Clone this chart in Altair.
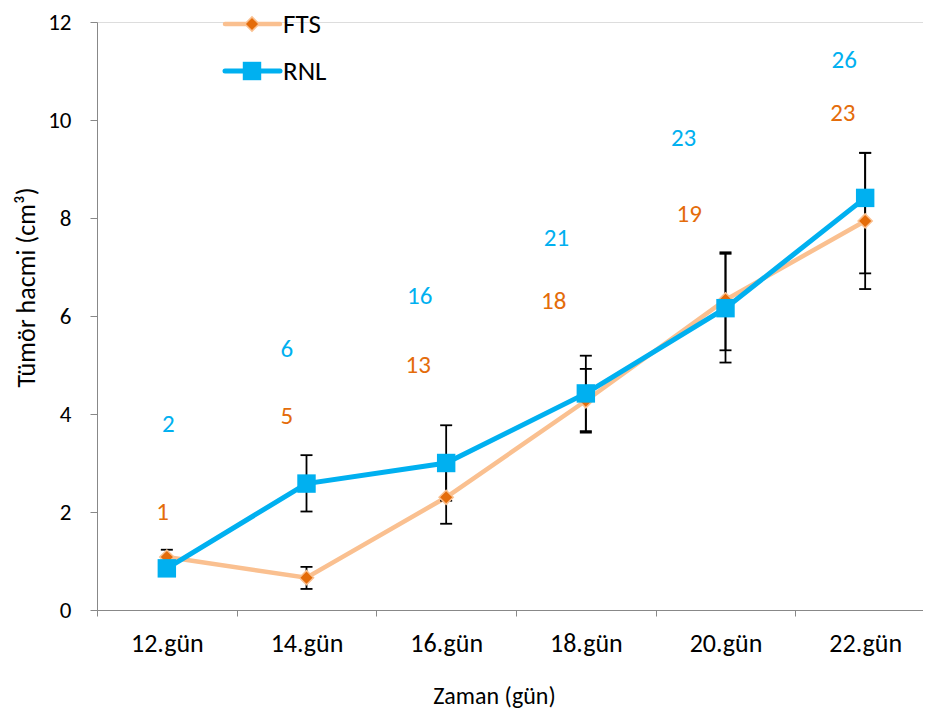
import json
import altair as alt
import pandas as pd

# ---------------- data ----------------
categories = ["12.gün", "14.gün", "16.gün", "18.gün", "20.gün", "22.gün"]
cat_index = [0, 1, 2, 3, 4, 5]

fts_mean = [1.08, 0.66, 2.30, 4.27, 6.33, 7.94]
fts_low = [0.93, 0.43, 1.76, 3.62, 5.30, 6.55]
fts_high = [1.23, 0.88, 2.84, 4.92, 7.30, 9.33]

rnl_mean = [0.85, 2.58, 3.00, 4.42, 6.16, 8.41]
rnl_low = [0.78, 2.01, 2.23, 3.65, 5.05, 6.87]
rnl_high = [0.92, 3.16, 3.77, 5.19, 7.27, 9.33]

# annotation counts (n) placed above each time point
fts_n = ["1", "5", "13", "18", "19", "23"]
fts_n_x = [-0.03, 0.86, 1.80, 2.77, 3.74, 4.84]
fts_n_y = [1.99, 3.96, 5.00, 6.31, 8.08, 10.15]

rnl_n = ["2", "6", "16", "21", "23", "26"]
rnl_n_x = [0.01, 0.86, 1.81, 2.79, 3.70, 4.85]
rnl_n_y = [3.80, 5.33, 6.40, 7.60, 9.63, 11.22]

y_ticks = [0, 2, 4, 6, 8, 10, 12]

# ---------------- style ----------------
FONT = "Carlito, Calibri, Lato, sans-serif"
ORANGE_LINE = "#FAC090"
ORANGE = "#E46C0A"
BLUE = "#00B0F0"
AXIS_GRAY = "#888888"

fts = pd.DataFrame({"i": cat_index, "mean": fts_mean, "low": fts_low, "high": fts_high})
rnl = pd.DataFrame({"i": cat_index, "mean": rnl_mean, "low": rnl_low, "high": rnl_high})
err = pd.concat([fts, rnl], ignore_index=True)
fts_lab = pd.DataFrame({"x": fts_n_x, "y": fts_n_y, "t": fts_n})
rnl_lab = pd.DataFrame({"x": rnl_n_x, "y": rnl_n_y, "t": rnl_n})
one = pd.DataFrame({"a": [0]})

x_tick_values = [v / 2 for v in range(-1, 12)]
label_expr = ("datum.value % 1 === 0 ? " + json.dumps(categories) +
              "[datum.value] : ''")

x_scale = alt.Scale(domain=[-0.5, 5.5], range=[0, 838], nice=False, zero=False)
y_scale = alt.Scale(domain=[0, 12], nice=False)

x_axis = alt.Axis(
    values=x_tick_values, labelExpr=label_expr, grid=False,
    tickSize=6, tickColor=AXIS_GRAY, domainColor=AXIS_GRAY,
    tickOpacity={"condition": {"test": "datum.value % 1 === 0", "value": 0}, "value": 1},
    labelFont=FONT, labelFontSize=26, labelColor="#000000", labelPadding=14,
    labelOverlap=False, labelFlush=False, labelBound=False,
    title="Zaman (gün)", titleFont=FONT, titleFontSize=24, titleFontWeight="normal",
    titleColor="#000000", titleX=397, titleY=74, titleAlign="center",
    titleBaseline="top", titleAnchor="start",
)
y_axis = alt.Axis(
    values=y_ticks, grid=False, tickSize=7, tickColor=AXIS_GRAY,
    domainColor=AXIS_GRAY, labelFont=FONT, labelFontSize=23,
    labelColor="#000000", labelPadding=19,
    title="Tümör hacmi (cm³)", titleFont=FONT, titleFontSize=26,
    titleFontWeight="normal", titleColor="#000000", titleX=-71, titleY=265,
    titleAlign="center", titleBaseline="middle", titleAnchor="start", titleAngle=270,
)

X = alt.X("i:Q", scale=x_scale, axis=x_axis)
Y = alt.Y("mean:Q", scale=y_scale, axis=y_axis)

err_rule = alt.Chart(err).mark_rule(color="#000000", strokeWidth=1.8).encode(
    x=alt.X("i:Q", scale=x_scale), y=alt.Y("low:Q", scale=y_scale), y2="high:Q")
cap_low = alt.Chart(err).mark_rule(color="#000000", strokeWidth=1.8, xOffset=-6, x2Offset=6).encode(
    x=alt.X("i:Q", scale=x_scale), x2="i:Q", y=alt.Y("low:Q", scale=y_scale))
cap_high = alt.Chart(err).mark_rule(color="#000000", strokeWidth=1.8, xOffset=-6, x2Offset=6).encode(
    x=alt.X("i:Q", scale=x_scale), x2="i:Q", y=alt.Y("high:Q", scale=y_scale))

fts_line = alt.Chart(fts).mark_line(color=ORANGE_LINE, strokeWidth=4.5).encode(x=X, y=Y)
fts_pts = alt.Chart(fts).mark_point(shape="diamond", size=200, filled=True, fill=ORANGE,
                                    stroke=ORANGE_LINE, strokeWidth=1.5, opacity=1).encode(
    x=alt.X("i:Q", scale=x_scale), y=alt.Y("mean:Q", scale=y_scale))
rnl_line = alt.Chart(rnl).mark_line(color=BLUE, strokeWidth=5).encode(
    x=alt.X("i:Q", scale=x_scale), y=alt.Y("mean:Q", scale=y_scale))
rnl_pts = alt.Chart(rnl).mark_point(shape="square", size=340, filled=True, fill=BLUE,
                                    opacity=1).encode(
    x=alt.X("i:Q", scale=x_scale), y=alt.Y("mean:Q", scale=y_scale))

fts_text = alt.Chart(fts_lab).mark_text(font=FONT, fontSize=25, color=ORANGE).encode(
    x=alt.X("x:Q", scale=x_scale), y=alt.Y("y:Q", scale=y_scale), text="t:N")
rnl_text = alt.Chart(rnl_lab).mark_text(font=FONT, fontSize=25, color=BLUE).encode(
    x=alt.X("x:Q", scale=x_scale), y=alt.Y("y:Q", scale=y_scale), text="t:N")

# legend (drawn in pixel space, relative to the plot area)
leg_fts_line = alt.Chart(one).mark_rule(color=ORANGE_LINE, strokeWidth=4.5, strokeCap="round").encode(
    x=alt.value(128), x2=alt.value(183), y=alt.value(2))
leg_fts_pt = alt.Chart(one).mark_point(shape="diamond", size=200, filled=True, fill=ORANGE,
                                       stroke=ORANGE_LINE, strokeWidth=1.5, opacity=1).encode(
    x=alt.value(155), y=alt.value(2))
leg_fts_txt = alt.Chart(one).mark_text(font=FONT, fontSize=27, align="left", baseline="middle",
                                       color="#000000").encode(
    x=alt.value(186), y=alt.value(3), text=alt.value("FTS"))
leg_rnl_line = alt.Chart(one).mark_rule(color=BLUE, strokeWidth=5, strokeCap="round").encode(
    x=alt.value(128), x2=alt.value(183), y=alt.value(49))
leg_rnl_pt = alt.Chart(one).mark_point(shape="square", size=340, filled=True, fill=BLUE,
                                       opacity=1).encode(
    x=alt.value(155), y=alt.value(49))
leg_rnl_txt = alt.Chart(one).mark_text(font=FONT, fontSize=27, align="left", baseline="middle",
                                       color="#000000").encode(
    x=alt.value(186), y=alt.value(50), text=alt.value("RNL"))

chart = alt.layer(
    fts_line, err_rule, cap_low, cap_high, fts_pts, rnl_line, rnl_pts,
    fts_text, rnl_text,
    leg_fts_line, leg_fts_pt, leg_fts_txt, leg_rnl_line, leg_rnl_pt, leg_rnl_txt,
).properties(
    width=826, height=588,
    autosize=alt.AutoSizeParams(type="none"),
    padding={"left": 89, "top": 14, "right": 0, "bottom": 104},
).configure_view(stroke=None).configure(background="#ffffff")

chart.save("out.html", embed_options={"renderer": "svg", "actions": False})
